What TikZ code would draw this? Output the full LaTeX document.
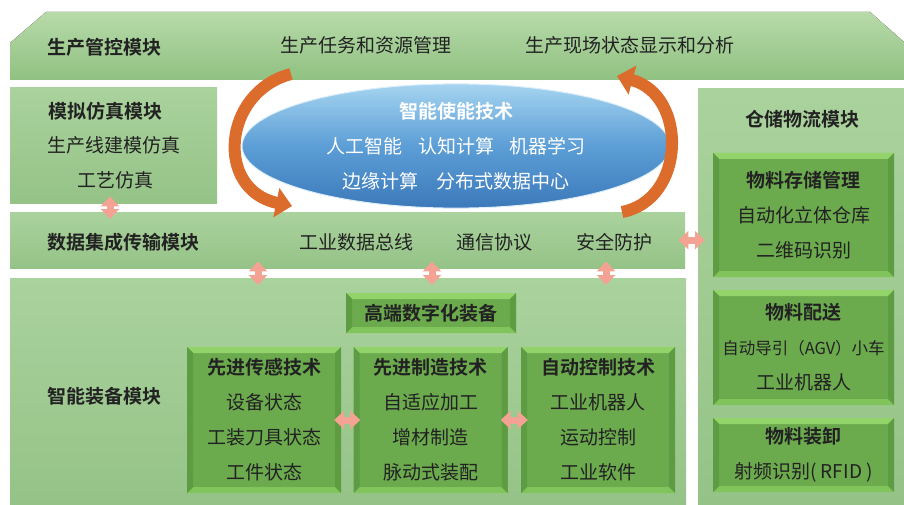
\documentclass[tikz,border=0pt]{standalone}
\usepackage{fontspec}
\setmainfont{Noto Sans CJK SC}[BoldFont={Noto Sans CJK SC Bold}]
\usetikzlibrary{arrows.meta,shapes.geometric}
\definecolor{slabtop}{HTML}{B7DAA9}
\definecolor{slabbot}{HTML}{90C182}
\definecolor{pantop}{HTML}{AAD29D}
\definecolor{panbot}{HTML}{95C387}
\definecolor{boxg}{HTML}{6CAA4E}
\definecolor{bevt}{HTML}{92D46A}
\definecolor{bevb}{HTML}{80C45B}
\definecolor{bevs}{HTML}{5E9C43}
\definecolor{elltop}{HTML}{A5D4F0}
\definecolor{ellmid}{HTML}{5C9ED6}
\definecolor{ellbot}{HTML}{3C79BA}
\definecolor{orc}{HTML}{DB6C2C}
\definecolor{pinkc}{HTML}{F4A294}
\definecolor{txt}{HTML}{222222}
\newcommand\fs{\fontsize{19}{35}\selectfont}
\begin{document}
\begin{tikzpicture}[x=1pt,y=-1pt,
  panel/.style={rectangle, anchor=north west, inner sep=0pt, top color=pantop, bottom color=panbot, draw=none},
  lbl/.style={anchor=west, font=\fs\bfseries, text=txt, inner sep=0pt},
  txtn/.style={font=\fs, text=txt, inner sep=0pt},
  bevel/.style={rectangle, inner sep=0pt, fill=boxg, align=center, font=\fs, text=txt,
    path picture={
      \path (path picture bounding box.north west) coordinate (pA)
            (path picture bounding box.north east) coordinate (pB)
            (path picture bounding box.south east) coordinate (pC)
            (path picture bounding box.south west) coordinate (pD);
      \fill[bevt] (pA) -- (pB) -- ([shift={(-6pt,-6pt)}]pB) -- ([shift={(6pt,-6pt)}]pA) -- cycle;
      \fill[bevb] (pD) -- (pC) -- ([shift={(-6pt,6pt)}]pC) -- ([shift={(6pt,6pt)}]pD) -- cycle;
      \fill[bevs] (pA) -- (pD) -- ([shift={(6pt,6pt)}]pD) -- ([shift={(6pt,-6pt)}]pA) -- cycle;
      \fill[bevs] (pB) -- (pC) -- ([shift={(-6pt,6pt)}]pC) -- ([shift={(-6pt,-6pt)}]pB) -- cycle;
    }},
  dbl/.style={draw=pinkc, line width=7pt, {Triangle[width=18pt,length=10pt]}-{Triangle[width=18pt,length=10pt]}, shorten <=-7pt, shorten >=-7pt},
  orarrow/.style={draw=orc, line width=12pt, -{Triangle[width=29pt,length=16pt]}}
]
\fill[white] (0,0) rectangle (904,505);
\useasboundingbox (0,0) rectangle (904,505);
% top slab
\fill[top color=slabtop, bottom color=slabbot] (10,80) -- (10,43) -- (46,12) -- (870,12) -- (904,42) -- (904,80) -- cycle;
% panels
\node[panel, minimum width=207pt, minimum height=116pt] (sim) at (10,87) {};
\node[panel, minimum width=675pt, minimum height=56pt] (data) at (10,212) {};
\node[panel, minimum width=676pt, minimum height=227pt] (equip) at (10,278) {};
\node[panel, minimum width=206pt, minimum height=417pt] (store) at (698,88) {};
% labels
\node[lbl] (topl) at (47,47) {生产管控模块};
\node[txtn] (t1) at (366,45) {生产任务和资源管理};
\node[txtn] (t2) at (630,45) {生产现场状态显示和分析};
\node[lbl] (siml) at (48,111) {模拟仿真模块};
\node[txtn] (s1) at (114,145) {生产线建模仿真};
\node[txtn] (s2) at (115,180) {工艺仿真};
\node[lbl] (datal) at (47,242) {数据集成传输模块};
\node[txtn] (d1) at (356,242) {工业数据总线};
\node[txtn] (d2) at (494,242) {通信协议};
\node[txtn] (d3) at (614,242) {安全防护};
\node[lbl] (equipl) at (47,396) {智能装备模块};
\node[lbl, anchor=center] (storel) at (802,119) {仓储物流模块};
% bevel boxes
\node[bevel, minimum width=170pt, minimum height=40pt] (hi) at (431,313) {\bfseries 高端数字化装备};
\node[bevel, minimum width=154pt, minimum height=146pt] (sens) at (264,420) {{\bfseries 先进传感技术}\\设备状态\\工装刀具状态\\工件状态};
\node[bevel, minimum width=154pt, minimum height=146pt] (manu) at (430.5,420) {{\bfseries 先进制造技术}\\自适应加工\\增材制造\\脉动式装配};
\node[bevel, minimum width=154pt, minimum height=146pt] (ctrl) at (598,420) {{\bfseries 自动控制技术}\\工业机器人\\运动控制\\工业软件};
\node[bevel, minimum width=181pt, minimum height=124pt] (stor) at (803.5,215) {{\bfseries 物料存储管理}\\自动化立体仓库\\二维码识别};
\node[bevel, minimum width=181pt, minimum height=115pt] (dist) at (803.5,347.5) {{\bfseries 物料配送}\\{\fontsize{16.5}{35}\selectfont 自动导引（AGV）小车}\\工业机器人};
\node[bevel, minimum width=181pt, minimum height=74pt] (load) at (803.5,455) {{\bfseries 物料装卸}\\射频识别( RFID )};
% ellipse
\node[ellipse, minimum width=428pt, minimum height=122pt, inner sep=0pt, top color=elltop, bottom color=ellbot, middle color=ellmid, draw=white!60!elltop, line width=1pt, text=white, align=center, font=\fs] (ai) at (456,146) {{\bfseries 智能使能技术}\\人工智能\hspace{0.8em}认知计算\hspace{0.8em}机器学习\\边缘计算\hspace{0.9em}分布式数据中心};
% connectors
\draw[dbl] (110,0 |- sim.south) -- (110,0 |- data.north);
\draw[dbl] (258,0 |- data.south) -- (258,0 |- equip.north);
\draw[dbl] (432,0 |- data.south) -- (432,0 |- equip.north);
\draw[dbl] (606,0 |- data.south) -- (606,0 |- equip.north);
\draw[dbl] (data.east) -- (store.west |- data.east);
\draw[dbl] (sens.east) -- (manu.west);
\draw[dbl] (manu.east) -- (ctrl.west);
% orange cycle arrows
\draw[orarrow] (291,74) .. controls (222,92) and (215,190) .. (292,206);
\draw[orarrow] (622,212) .. controls (686,200) and (688,95) .. (617,76);
\end{tikzpicture}
\end{document}
